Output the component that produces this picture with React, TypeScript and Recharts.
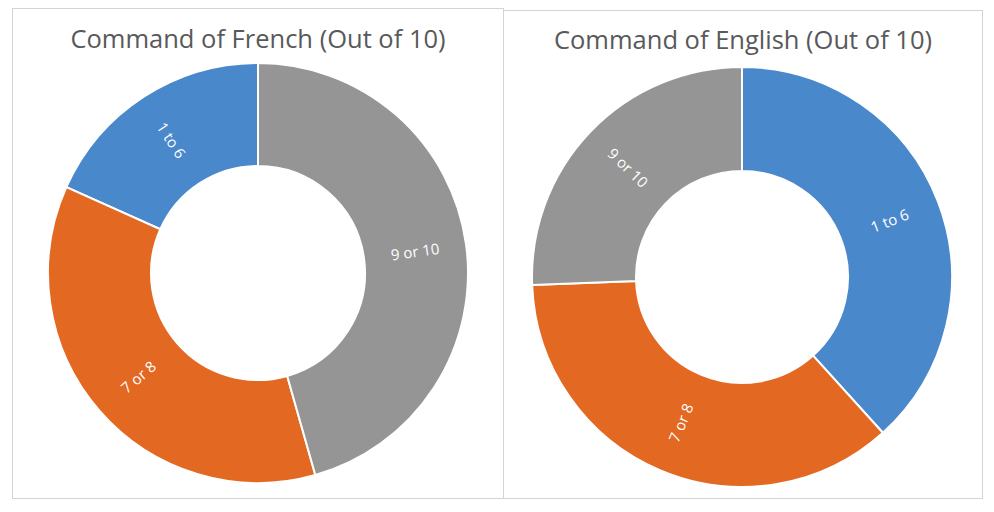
import React from "react";
import { PieChart, Pie, Cell } from "recharts";

const categories = ["1 to 6", "7 or 8", "9 or 10"];
const frenchValues = [18.3, 36.1, 45.6];
const englishValues = [38.3, 36.1, 25.6];
const titles = ["Command of French (Out of 10)", "Command of English (Out of 10)"];
const colors = ["#4A88CC", "#E36822", "#959595"];

const frenchData = categories.map((name, i) => ({ name, value: frenchValues[i] }));
const englishData = categories.map((name, i) => ({ name, value: englishValues[i] }));

const RAD = Math.PI / 180;

const renderLabel = (props: any) => {
  const { cx, cy, midAngle, innerRadius, outerRadius, name } = props;
  const r = (innerRadius + outerRadius) / 2;
  const x = cx + r * Math.cos(-midAngle * RAD);
  const y = cy + r * Math.sin(-midAngle * RAD);
  let rot = -midAngle;
  while (rot > 90) rot -= 360;
  while (rot <= -270) rot += 360;
  if (rot < -90) rot += 180;
  if (rot > 90) rot -= 180;
  return (
    <text
      x={x}
      y={y}
      fill="#ffffff"
      fontSize={15}
      fontFamily="'Open Sans', sans-serif"
      textAnchor="middle"
      dominantBaseline="central"
      transform={`rotate(${rot} ${x} ${y})`}
    >
      {name}
    </text>
  );
};

const panelStyle: React.CSSProperties = {
  position: "absolute",
  border: "1px solid #D4D4D4",
  boxSizing: "border-box",
  background: "#ffffff",
};

const titleStyle: React.CSSProperties = {
  position: "absolute",
  height: 30,
  lineHeight: "30px",
  textAlign: "center",
  color: "#595959",
  fontFamily: "'Open Sans', sans-serif",
  fontSize: 25.5,
  whiteSpace: "nowrap",
};

export default function App() {
  return (
    <div style={{ position: "absolute", left: 0, top: 0, width: 994, height: 512, background: "#ffffff" }}>
      <div style={{ ...panelStyle, left: 12, top: 8, width: 492, height: 491 }} />
      <div style={{ ...panelStyle, left: 503, top: 10, width: 480, height: 489 }} />
      <div style={{ ...titleStyle, left: 12, top: 23, width: 492 }}>{titles[0]}</div>
      <div style={{ ...titleStyle, left: 503, top: 24, width: 480 }}>{titles[1]}</div>
      <div style={{ position: "absolute", left: 0, top: 0 }}>
        <PieChart width={994} height={512} margin={{ top: 0, right: 0, bottom: 0, left: 0 }}>
          <Pie
            data={frenchData}
            dataKey="value"
            nameKey="name"
            cx={258}
            cy={273}
            innerRadius={107}
            outerRadius={210}
            startAngle={90}
            endAngle={450}
            stroke="#ffffff"
            strokeWidth={2}
            label={renderLabel}
            labelLine={false}
            isAnimationActive={false}
          >
            {frenchData.map((d, i) => (
              <Cell key={d.name} fill={colors[i]} />
            ))}
          </Pie>
          <Pie
            data={englishData}
            dataKey="value"
            nameKey="name"
            cx={742}
            cy={277}
            innerRadius={106}
            outerRadius={210}
            startAngle={90}
            endAngle={-270}
            stroke="#ffffff"
            strokeWidth={2}
            label={renderLabel}
            labelLine={false}
            isAnimationActive={false}
          >
            {englishData.map((d, i) => (
              <Cell key={d.name} fill={colors[i]} />
            ))}
          </Pie>
        </PieChart>
      </div>
    </div>
  );
}
